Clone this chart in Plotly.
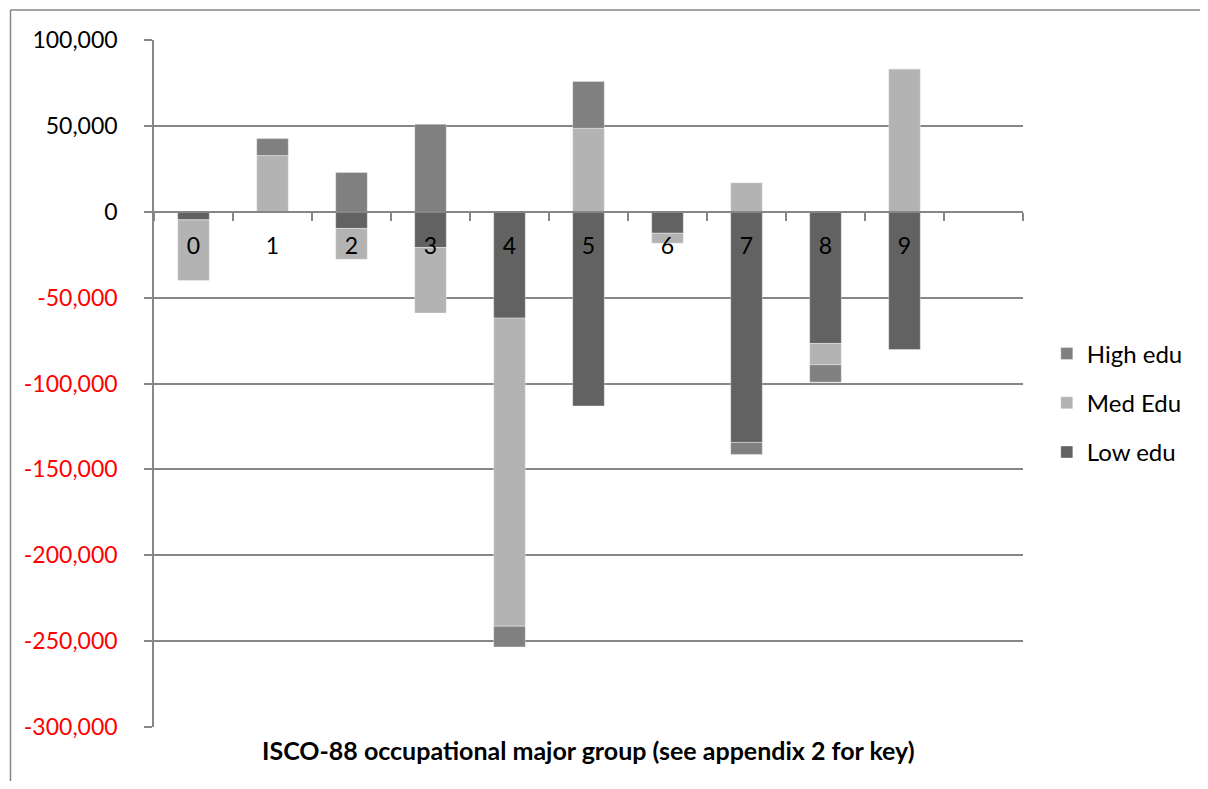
import plotly.graph_objects as go

categories = ["0", "1", "2", "3", "4", "5", "6", "7", "8", "9"]
low_edu = [-4700, 0, -9700, -20800, -61900, -113100, -12500, -134300, -76700, -80200]
med_edu = [-35400, 32700, -18000, -38200, -179400, 48600, -5800, 16900, -12400, 83200]
high_edu = [0, 9900, 22900, 51000, -12100, 27300, 0, -7000, -10100, 0]

y_ticks = [100000, 50000, 0, -50000, -100000, -150000, -200000, -250000, -300000]

FONT = "Lato"
GRID = "#868686"

def fmt(v):
    s = f"{v:,}"
    if v < 0:
        return f"<span style='color:#ff0000'>{s}</span>"
    return s

xpos = list(range(len(categories)))
n_slots = len(categories) + 1

fig = go.Figure()
series = [("Low edu", low_edu, "#626262", 3),
          ("Med Edu", med_edu, "#b3b3b3", 2),
          ("High edu", high_edu, "#808080", 1)]
for name, vals, col, rank in series:
    fig.add_trace(go.Bar(
        x=xpos, y=vals, name=name, width=0.4,
        marker=dict(color=col, line=dict(color="rgba(255,255,255,0.35)", width=1)),
        legendgroup=name, legendrank=rank,
    ))

ymin, ymax = -300000, 100000

PW, PH = 872, 687  # plot area size in px
bx = (10 - 154) / PW
by = 1 + (40 - 10) / PH

# page body has an 8px margin, so the figure is offset by 8px
fig.update_layout(
    width=1192, height=773,
    margin=dict(l=146, r=174, t=32, b=54),
    paper_bgcolor="white", plot_bgcolor="white",
    barmode="relative",
    font=dict(family=FONT, size=23, color="#000000"),
    showlegend=True,
    legend=dict(x=1.0274, xanchor="left", y=0.4716, yanchor="middle",
                traceorder="grouped", tracegroupgap=15,
                font=dict(family=FONT, size=24), bgcolor="rgba(0,0,0,0)"),
    xaxis=dict(
        range=[-0.5, n_slots - 0.5],
        tickvals=xpos, ticktext=categories,
        ticks="", showgrid=False,
        showline=True, linecolor=GRID, linewidth=1.5,
        anchor="free", position=(0 - ymin) / (ymax - ymin),
        ticklabelstandoff=14,
        minor=dict(tickvals=[k - 0.5 for k in range(n_slots + 1)], ticks="outside",
                   ticklen=8, tickcolor=GRID, tickwidth=1.5, showgrid=False),
        zeroline=False,
    ),
    yaxis=dict(
        range=[ymin, ymax],
        tickvals=y_ticks, ticktext=[fmt(v) for v in y_ticks],
        showgrid=True, gridcolor=GRID, gridwidth=1.5,
        showline=True, linecolor=GRID, linewidth=1.5,
        ticks="outside", ticklen=8, tickcolor=GRID, tickwidth=1.5,
        ticklabelstandoff=22,
        zeroline=True, zerolinecolor=GRID, zerolinewidth=1.5,
    ),
    annotations=[dict(
        text="<b>ISCO-88 occupational major group (see appendix 2 for key)</b>",
        xref="paper", yref="paper", x=0.5, y=-0.0335,
        xanchor="center", yanchor="middle", showarrow=False,
        font=dict(family=FONT, size=25, color="#000000"),
    )],
    shapes=[
        dict(type="line", xref="paper", yref="paper", x0=bx, x1=1.5, y0=by, y1=by,
             line=dict(color=GRID, width=1.5), layer="below"),
        dict(type="line", xref="paper", yref="paper", x0=bx, x1=bx, y0=by, y1=-0.5,
             line=dict(color=GRID, width=1.5), layer="below"),
    ],
)

fig.write_html("out.html")
